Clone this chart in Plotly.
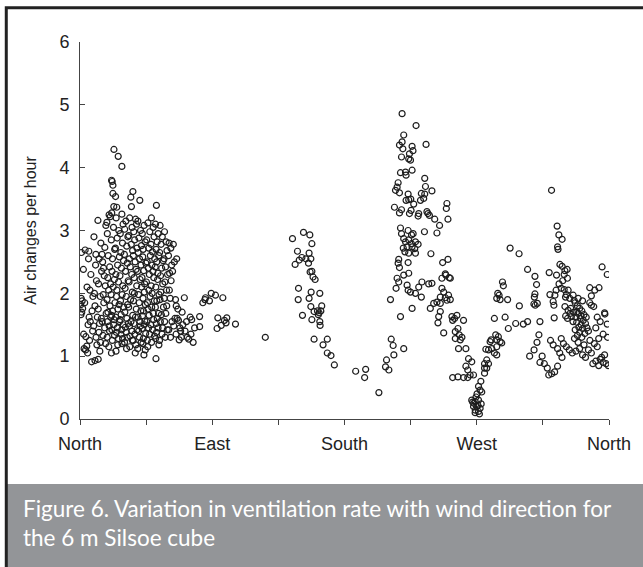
import plotly.graph_objects as go

# ---- data: (wind direction in degrees, air changes per hour) ----
north_pts = [
    (1.0, 2.65), (2.3, 2.38), (0.8, 1.92), (1.5, 1.88), (0.5, 1.82), (1.8, 1.76), (1.2, 1.70), (0.6, 1.66), (2.5, 1.35), (2.8, 1.12),
    (3.5, 2.69), (4.8, 2.10), (3.2, 1.85), (5.5, 1.50), (4.0, 1.31), (4.6, 1.16), (3.8, 1.10), (5.2, 1.05), (5.8, 2.55),
    (6.0, 2.67), (7.4, 2.30), (6.8, 2.05), (8.2, 1.72), (7.0, 1.55), (8.6, 1.40), (6.5, 1.25), (7.9, 0.91), (8.8, 1.95), (6.2, 1.62),
    (9.5, 2.90), (10.6, 2.45), (11.2, 2.20), (9.8, 2.00), (10.2, 1.80), (11.8, 1.62), (9.3, 1.48), (10.9, 1.30), (11.5, 1.18), (10.2, 0.93), (12.4, 0.95), (10.8, 2.62),
    (12.2, 3.16), (14.2, 2.80), (13.0, 2.55), (14.7, 2.35), (12.6, 2.15), (13.8, 1.95), (12.4, 1.75), (14.5, 1.60), (13.3, 1.52), (12.9, 1.38), (14.0, 1.22), (13.5, 1.08), (15.0, 2.62),
    (17.6, 3.08), (18.3, 3.13), (16.9, 2.73), (15.4, 2.50), (16.5, 2.28), (17.2, 2.12), (15.8, 1.98), (16.2, 1.85), (17.8, 1.68), (15.1, 1.55), (16.8, 1.45), (15.6, 1.33), (17.4, 1.20), (16.0, 2.40),
    (19.8, 3.25), (20.6, 3.22), (18.6, 2.95), (19.2, 2.60), (20.2, 2.42), (18.9, 2.25), (20.8, 2.15), (19.5, 2.05), (18.4, 1.90), (20.4, 1.80), (19.0, 1.70), (20.9, 1.62), (18.7, 1.55), (19.9, 1.48), (20.1, 1.40), (18.5, 1.30), (19.6, 1.15), (21.5, 3.80), (21.9, 3.78),
    (23.1, 4.29), (22.4, 3.72), (22.4, 3.59), (23.0, 3.38), (21.6, 3.28), (22.8, 3.05), (21.3, 2.85), (23.6, 2.70), (22.1, 2.55), (21.8, 2.35), (23.4, 2.22), (22.6, 2.10), (21.2, 1.98), (23.8, 1.85), (22.2, 1.72), (21.5, 1.65), (23.2, 1.58), (22.9, 1.50), (21.7, 1.42), (23.5, 1.33), (22.0, 1.25), (21.4, 1.05),
    (26.0, 4.18), (24.2, 3.54), (25.0, 3.37), (24.6, 3.20), (26.4, 3.00), (25.3, 2.88), (24.1, 2.72), (26.8, 2.58), (25.6, 2.45), (24.4, 2.30), (26.2, 2.18), (25.1, 2.05), (24.8, 1.95), (26.6, 1.82), (25.8, 1.75), (24.3, 1.62), (26.9, 1.55), (25.4, 1.45), (24.7, 1.38), (26.1, 1.28), (25.7, 1.18), (24.5, 1.08),
    (28.5, 4.02), (28.5, 3.26), (29.3, 3.10), (27.4, 2.95), (28.9, 2.80), (27.8, 2.65), (29.6, 2.52), (28.2, 2.40), (27.2, 2.28), (29.1, 2.12), (28.7, 1.98), (27.6, 1.88), (29.8, 1.78), (28.0, 1.66), (27.3, 1.58), (29.4, 1.50), (28.4, 1.42), (27.9, 1.35), (29.0, 1.28), (28.6, 1.20),
    (31.2, 3.15), (30.4, 3.02), (32.6, 2.90), (31.8, 2.75), (30.2, 2.62), (32.2, 2.48), (31.0, 2.35), (32.8, 2.20), (30.7, 2.08), (31.5, 1.95), (32.4, 1.82), (30.5, 1.70), (31.9, 1.60), (32.9, 1.52), (30.9, 1.46), (31.4, 1.38), (32.1, 1.30), (30.3, 1.22), (31.7, 1.12),
    (36.0, 3.62), (34.6, 3.53), (35.0, 3.38), (33.8, 3.20), (35.4, 3.05), (33.2, 2.92), (34.9, 2.78), (35.8, 2.68), (33.6, 2.55), (34.2, 2.42), (35.2, 2.30), (33.4, 2.18), (35.6, 2.02), (34.4, 1.90), (33.1, 1.78), (35.9, 1.65), (34.7, 1.55), (33.7, 1.48), (35.3, 1.40), (34.0, 1.32), (35.7, 1.25), (33.9, 1.15),
    (37.8, 3.18), (38.4, 3.10), (36.6, 2.98), (37.2, 2.85), (38.8, 2.72), (36.3, 2.60), (37.5, 2.50), (38.1, 2.38), (36.9, 2.25), (38.6, 2.12), (37.0, 2.00), (36.4, 1.88), (38.3, 1.75), (37.7, 1.62), (36.7, 1.52), (38.9, 1.42), (37.3, 1.35), (36.2, 1.25), (38.0, 1.18), (37.6, 1.05),
    (40.7, 3.48), (39.4, 3.15), (41.2, 3.00), (40.1, 2.88), (41.8, 2.76), (39.6, 2.65), (40.5, 2.55), (41.5, 2.45), (39.2, 2.35), (40.9, 2.22), (41.9, 2.10), (39.8, 1.98), (40.3, 1.85), (41.4, 1.72), (39.5, 1.62), (40.8, 1.55), (41.1, 1.48), (39.9, 1.40), (40.4, 1.30), (41.6, 1.22), (39.3, 1.12),
    (43.6, 3.08), (42.4, 2.95), (44.3, 2.82), (43.0, 2.70), (42.7, 2.58), (44.8, 2.48), (43.4, 2.36), (42.2, 2.25), (44.0, 2.15), (43.8, 2.02), (42.9, 1.92), (44.5, 1.82), (43.2, 1.72), (42.5, 1.64), (44.1, 1.56), (43.7, 1.50), (42.3, 1.44), (44.7, 1.36), (43.1, 1.28), (42.8, 1.20), (44.4, 1.10), (43.5, 1.02),
    (46.2, 3.12), (47.5, 2.98), (45.4, 2.85), (46.8, 2.72), (47.9, 2.60), (45.7, 2.50), (46.5, 2.40), (47.2, 2.30), (45.2, 2.18), (46.9, 2.05), (47.7, 1.95), (45.9, 1.85), (46.3, 1.75), (47.0, 1.65), (45.5, 1.55), (46.6, 1.45), (47.4, 1.35), (45.8, 1.25), (46.1, 1.15),
    (48.6, 3.20), (49.8, 3.05), (50.4, 2.90), (48.3, 2.78), (49.3, 2.66), (50.8, 2.55), (48.9, 2.45), (49.6, 2.35), (50.2, 2.25), (48.4, 2.12), (49.1, 2.00), (50.6, 1.88), (48.8, 1.78), (49.9, 1.68), (50.1, 1.58), (48.2, 1.50), (49.4, 1.42), (50.7, 1.32), (48.7, 1.22),
    (52.0, 3.40), (51.4, 3.10), (53.2, 2.95), (52.5, 2.82), (51.8, 2.70), (53.6, 2.60), (52.2, 2.50), (51.2, 2.42), (53.0, 2.32), (52.8, 2.22), (51.6, 2.10), (53.8, 1.98), (52.3, 1.88), (51.3, 1.78), (53.4, 1.68), (52.6, 1.60), (51.9, 1.52), (53.1, 1.45), (52.1, 1.38), (51.5, 1.28), (53.7, 1.18), (51.7, 0.96),
    (54.5, 3.08), (56.0, 2.90), (55.2, 2.78), (54.2, 2.65), (56.6, 2.52), (55.6, 2.40), (54.8, 2.28), (56.3, 2.15), (55.0, 2.02), (54.4, 1.90), (56.8, 1.78), (55.4, 1.66), (54.7, 1.55), (56.2, 1.45), (55.8, 1.35), (54.1, 1.25),
    (57.5, 2.98), (58.6, 2.82), (59.2, 2.68), (57.2, 2.55), (58.2, 2.42), (59.6, 2.30), (57.8, 2.18), (58.9, 2.05), (57.4, 1.92), (59.0, 1.80), (58.4, 1.68), (57.6, 1.55), (59.4, 1.42), (58.0, 1.30),
    (60.6, 2.80), (61.8, 2.72), (60.2, 2.60), (62.4, 2.45), (61.0, 2.32), (62.0, 2.20), (60.8, 2.05), (61.4, 1.92), (62.6, 1.55), (60.4, 1.42), (61.6, 1.30),
    (63.5, 2.78), (64.2, 2.50), (63.0, 2.35), (65.0, 1.90), (64.6, 1.60), (63.8, 1.48), (65.4, 1.35), (65.8, 2.55),
]

east_pts = [
    (66.1, 1.60), (67.0, 1.57), (68.0, 1.45), (68.5, 1.40), (69.0, 1.30), (67.5, 1.26), (71.0, 1.93), (65.5, 1.80),
    (66.6, 1.75), (71.5, 1.40), (73.0, 1.30), (74.0, 1.27), (75.0, 1.62), (76.0, 1.58), (78.0, 1.45), (70.0, 1.50),
    (72.5, 1.55), (69.5, 1.70), (77.0, 1.22), (75.5, 1.35),
    (81.4, 1.63), (81.4, 1.47), (83.6, 1.85), (85.4, 1.93), (88.1, 1.88), (89.3, 2.00), (92.2, 1.97), (97.2, 1.93),
    (85.0, 1.90), (93.8, 1.61), (93.3, 1.44), (96.1, 1.49), (98.3, 1.57), (99.9, 1.61), (99.4, 1.53), (105.8, 1.51),
    (126.1, 1.30),
]

south_pts = [
    (144.6, 2.87), (152.1, 2.97), (156.4, 2.93), (157.8, 2.79), (148.0, 2.67), (149.2, 2.53), (151.0, 2.57), (153.7, 2.55),
    (155.9, 2.64), (157.1, 2.55), (155.5, 2.48), (146.4, 2.46), (156.6, 2.34), (157.8, 2.35), (158.6, 2.26), (160.0, 2.22),
    (148.7, 2.08), (157.3, 2.02), (163.2, 2.00), (148.5, 1.90), (155.9, 1.92), (157.1, 1.79), (164.5, 1.80), (159.3, 1.71),
    (161.6, 1.72), (162.7, 1.69), (163.9, 1.72), (162.2, 1.66), (151.4, 1.65), (157.8, 1.58), (163.2, 1.55), (163.4, 1.49),
    (159.3, 1.27), (168.3, 1.27), (165.4, 1.18), (168.3, 1.05), (170.8, 1.01), (173.1, 0.86),
    (187.6, 0.76), (194.4, 0.79), (193.7, 0.66), (203.4, 0.42),
]

west_pts = [
    (208.6, 0.94), (207.9, 0.83), (210.2, 0.78), (211.3, 1.90), (211.8, 1.27), (213.1, 1.17), (213.6, 1.02), (220.3, 1.12),
    (214.0, 3.37), (214.7, 3.64), (215.8, 3.69), (216.5, 3.76), (216.5, 2.48), (215.8, 2.24), (215.1, 2.08),
    (219.2, 4.86), (228.7, 4.67), (220.3, 4.52), (219.2, 4.41), (217.4, 4.36), (219.7, 4.30), (226.0, 4.34), (226.6, 4.27),
    (224.2, 4.22), (223.7, 4.14), (224.9, 4.12), (218.8, 4.17), (235.5, 4.37), (218.1, 3.92), (221.5, 3.93), (221.9, 3.88),
    (226.0, 3.96), (234.6, 3.83), (235.1, 3.70), (239.5, 3.63), (217.4, 3.60), (223.3, 3.58), (223.7, 3.49), (221.9, 3.48),
    (225.1, 3.50), (227.1, 3.42), (232.3, 3.59), (234.6, 3.58), (233.9, 3.51), (231.7, 3.48), (249.7, 3.43), (249.3, 3.35),
    (250.4, 3.18), (244.7, 3.08), (242.9, 2.96), (241.4, 3.18), (236.8, 3.27), (237.8, 3.24), (236.1, 3.30), (217.4, 3.28),
    (218.8, 3.33), (224.2, 3.27), (225.3, 3.32), (230.5, 3.27), (230.1, 3.23), (218.1, 3.04), (218.8, 2.95), (223.3, 3.00),
    (225.6, 2.93), (226.7, 2.95), (234.4, 2.98), (238.8, 2.63),
    (220.3, 2.87), (221.5, 2.82), (223.7, 2.85), (225.6, 2.79), (228.3, 2.82), (230.1, 2.78), (222.6, 2.74), (220.0, 2.72),
    (226.0, 2.74), (227.8, 2.71), (221.1, 2.66), (223.7, 2.64), (228.3, 2.64),
    (216.9, 2.54), (217.4, 2.41), (223.3, 2.49), (246.8, 2.49), (250.4, 2.54), (220.3, 2.29), (223.7, 2.32), (248.6, 2.31),
    (251.3, 2.25), (216.9, 2.18), (222.6, 2.13), (223.3, 2.05), (224.9, 2.02), (228.3, 2.00), (230.5, 2.10), (232.7, 2.18),
    (237.3, 2.15), (239.5, 2.16), (232.3, 1.94), (226.0, 1.76), (218.1, 1.63),
    (246.3, 2.24), (249.0, 2.29), (252.0, 2.24), (246.3, 2.08), (247.5, 2.02), (245.2, 1.94), (248.6, 1.93), (250.8, 1.97),
    (249.7, 1.89), (252.0, 1.90), (242.9, 1.86), (240.7, 1.84), (238.4, 1.76), (245.2, 1.84), (245.2, 1.71), (244.1, 1.63),
    (243.6, 1.53), (247.5, 1.37), (253.1, 1.63), (254.9, 1.60), (256.5, 1.65), (253.6, 1.57), (261.0, 1.57),
    (257.2, 1.44), (255.4, 1.39), (258.1, 1.34), (255.4, 1.28), (258.8, 1.26), (259.9, 1.30), (257.6, 1.12), (262.6, 1.12),
    (264.4, 0.96), (262.6, 0.84), (263.9, 0.78), (265.5, 0.70), (267.8, 0.70), (266.6, 0.91),
    (253.6, 0.66), (257.2, 0.67), (261.0, 0.66), (263.9, 0.66),
    (271.2, 0.52), (272.3, 0.46), (273.4, 0.43), (266.6, 0.30), (268.9, 0.28), (271.2, 0.30), (267.8, 0.20), (270.0, 0.20),
    (272.3, 0.17), (268.9, 0.10), (271.2, 0.12), (270.8, 0.22), (268.0, 0.25), (269.5, 0.35), (271.8, 0.08), (273.0, 0.24),
    (267.2, 0.27), (270.2, 0.40), (272.8, 0.60), (269.0, 0.14),
    (275.3, 0.73), (276.8, 0.81), (275.3, 0.81), (278.0, 0.88), (275.3, 0.88), (276.8, 0.94), (278.0, 1.10), (276.2, 1.11),
    (279.1, 1.23), (282.0, 1.05), (283.6, 1.02), (280.2, 1.12), (282.0, 1.60), (283.6, 1.92), (284.3, 2.00), (283.6, 1.26),
    (282.9, 1.34),
]

nw_pts = [
    (292.7, 2.72), (298.8, 2.63), (304.6, 2.38), (309.6, 2.27), (287.5, 2.18), (288.1, 2.12), (310.7, 2.14), (285.2, 1.97),
    (285.9, 1.90), (291.0, 1.90), (309.6, 1.99), (309.2, 1.94), (299.0, 1.80), (308.9, 1.83), (309.8, 1.81), (311.2, 1.84),
    (289.3, 1.62), (296.5, 1.52), (301.7, 1.51), (304.6, 1.55), (313.0, 1.55), (291.5, 1.44), (312.3, 1.34), (279.8, 1.26),
    (284.7, 1.31), (285.9, 1.23), (287.0, 1.21), (283.6, 1.15),
    (320.9, 3.64), (324.7, 3.07), (325.9, 2.93), (328.1, 2.86), (325.0, 2.74), (325.3, 2.70), (319.3, 2.33), (324.3, 2.29),
    (326.6, 2.46), (328.1, 2.43), (330.0, 2.36), (331.5, 2.38), (329.5, 2.30), (331.7, 2.24), (319.8, 1.98), (323.2, 1.97),
    (322.0, 1.87), (322.5, 1.81), (322.7, 1.61), (326.0, 2.15), (327.5, 2.08), (328.5, 2.20), (324.0, 2.05),
    (329.5, 2.06), (330.4, 1.94), (332.2, 2.05), (333.3, 1.92), (335.6, 1.97), (336.3, 1.89), (330.0, 1.79), (332.2, 1.73),
    (334.0, 1.76), (334.4, 1.63), (331.0, 1.98), (333.5, 1.68), (330.5, 1.64), (331.8, 1.60),
    (337.0, 1.85), (338.5, 1.80), (340.0, 1.76), (341.5, 1.72), (339.0, 1.68), (343.0, 1.66), (337.5, 1.62), (340.5, 1.60),
    (342.5, 1.57), (338.0, 1.54), (341.0, 1.50), (344.0, 1.52), (339.5, 1.46), (342.0, 1.44), (337.0, 1.42), (340.0, 1.38),
    (343.5, 1.36), (338.5, 1.33), (341.5, 1.30), (345.0, 1.45), (344.5, 1.62), (336.0, 1.70), (339.0, 1.92), (342.0, 1.88),
    (335.5, 1.55), (346.0, 1.40), (347.0, 1.25), (339.0, 1.22), (336.5, 1.28), (343.0, 1.18), (338.0, 1.70), (341.0, 1.64),
    (355.3, 2.42), (358.8, 2.30), (346.9, 2.09), (350.3, 2.05), (353.2, 2.09), (348.0, 1.96), (346.9, 1.85), (348.0, 1.81),
    (349.6, 1.79), (357.0, 1.69), (357.2, 1.67), (358.8, 1.51), (352.0, 1.62), (354.0, 1.55), (351.0, 1.45), (356.0, 1.35),
    (359.0, 1.30), (353.0, 1.28),
    (320.2, 1.25), (322.0, 1.18), (325.0, 1.12), (326.5, 1.05), (328.0, 0.98), (329.0, 1.20), (331.0, 1.15), (327.5, 1.28),
    (333.0, 1.10), (335.0, 1.05), (337.5, 1.08), (340.0, 1.12), (342.0, 1.02), (344.0, 0.98), (346.0, 1.10), (348.0, 1.05),
    (350.0, 1.20), (352.0, 1.15), (354.0, 0.95), (356.0, 0.90), (358.0, 0.88), (359.5, 0.85), (355.0, 0.98), (357.0, 1.02),
    (351.0, 0.92), (349.0, 0.88), (353.0, 0.85), (313.0, 0.90), (314.5, 1.00), (316.0, 0.88), (318.0, 0.81), (321.0, 0.72),
    (323.0, 0.75), (325.0, 0.84), (319.0, 0.70), (311.0, 1.22), (309.0, 1.10), (306.0, 1.00),
]

x_tickvals = [0, 45, 90, 135, 180, 225, 270, 315, 360]
x_ticktext = ["North", "", "East", "", "South", "", "West", "", "North"]
y_tickvals = [0, 1, 2, 3, 4, 5, 6]

y_title = "Air changes per hour"
caption = "Figure 6. Variation in ventilation rate with wind direction for<br>the 6 m Silsoe cube"

all_pts = north_pts + east_pts + south_pts + west_pts + nw_pts
direction = [p[0] for p in all_pts]
ach = [p[1] for p in all_pts]

fig = go.Figure()
fig.add_trace(go.Scatter(
    x=direction, y=ach, mode="markers",
    marker=dict(symbol="circle-open", size=6, color="#1e1e1e", line=dict(width=1.2, color="#1e1e1e")),
    showlegend=False, hoverinfo="x+y",
))

axis_font = dict(family="Liberation Sans, Arial, sans-serif", size=18, color="#222")

fig.update_layout(
    width=643, height=567, autosize=False,
    margin=dict(l=80, r=32, t=42, b=148),
    paper_bgcolor="white", plot_bgcolor="white",
    xaxis=dict(
        range=[0, 360], tickmode="array", tickvals=x_tickvals, ticktext=x_ticktext,
        showgrid=False, zeroline=False, showline=True, linecolor="#444", linewidth=1,
        ticks="outside", ticklen=5, tickcolor="#444", tickwidth=1,
        tickfont=axis_font, ticklabelstandoff=3,
    ),
    yaxis=dict(
        range=[0, 6], tickmode="array", tickvals=y_tickvals,
        showgrid=False, zeroline=False, showline=True, linecolor="#444", linewidth=1,
        ticks="inside", ticklen=5, tickcolor="#444", tickwidth=1,
        tickfont=axis_font, ticklabelstandoff=6,
        title=dict(text=y_title, font=dict(family="Liberation Sans, Arial, sans-serif", size=16, color="#222"), standoff=18),
    ),
)

# outer frame and caption box (paper coordinates; plot area spans x 80..611, y 41.7..419 px)
def px_x(p):
    return (p - 80) / 531.0

def px_y(p):
    return (419 - p) / 377.3

fig.add_shape(type="rect", xref="paper", yref="paper",
              x0=px_x(6), x1=px_x(650), y0=px_y(484), y1=px_y(575),
              fillcolor="#939598", line=dict(width=0), layer="below")
fig.add_shape(type="rect", xref="paper", yref="paper",
              x0=px_x(6), x1=px_x(650), y0=px_y(575), y1=px_y(7.5),
              fillcolor="rgba(0,0,0,0)", line=dict(width=3, color="#222"))

fig.add_annotation(
    xref="paper", yref="paper", x=px_x(21), y=px_y(523.5),
    xanchor="left", yanchor="middle", align="left", showarrow=False,
    text=caption, font=dict(family="Lato, Open Sans, sans-serif", size=22.5, color="white"),
)

fig.write_html("out.html", config={"displayModeBar": False},
               post_script="document.body.style.margin='0px';")
